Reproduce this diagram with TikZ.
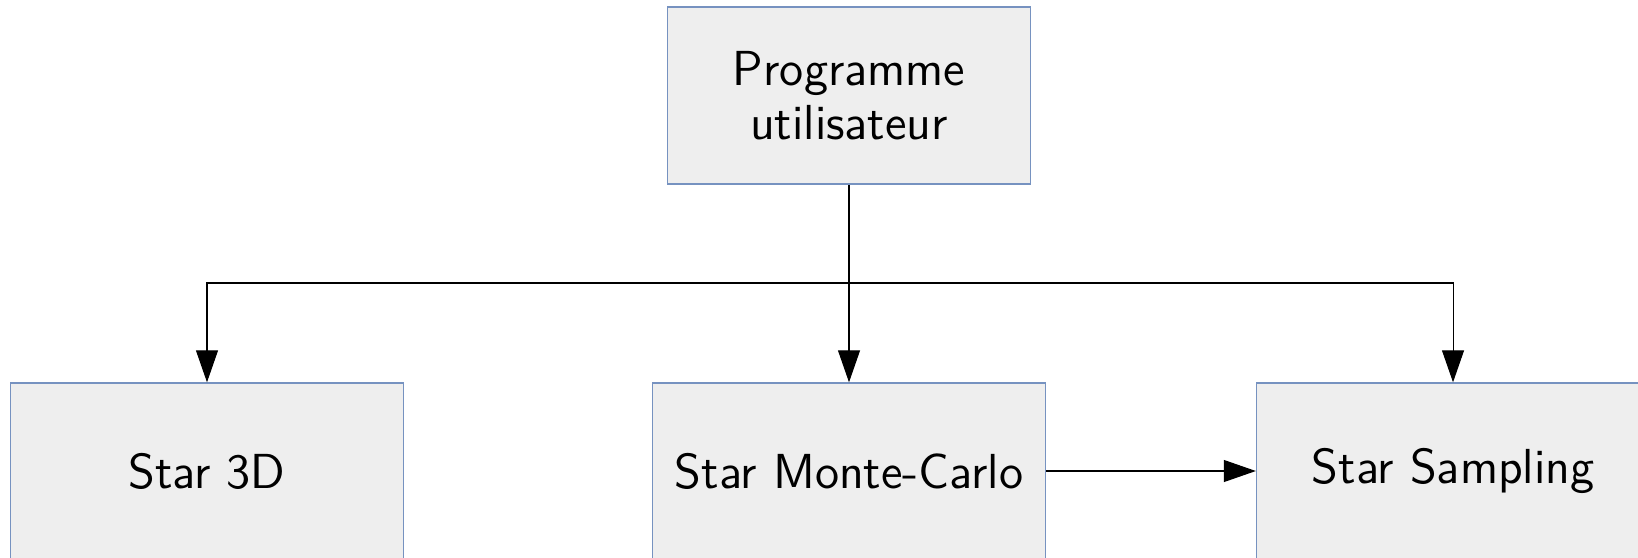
\documentclass[tikz,border=0pt]{standalone}
\usepackage{tikz}
\usetikzlibrary{arrows.meta, positioning}

\definecolor{boxfill}{RGB}{238,238,238}
\definecolor{boxline}{RGB}{118,146,192}

\begin{document}
\begin{tikzpicture}[
    font=\sffamily\fontsize{14}{15.6}\selectfont,
    box/.style={rectangle, minimum width=3.93cm, minimum height=1.76cm, align=center, draw=boxline, fill=boxfill, line width=0.4pt},
    top/.style={box, minimum width=3.63cm, minimum height=1.77cm},
    arr/.style={-{Triangle[length=0.32cm, width=0.22cm]}, line width=0.3pt}
]

%% ── Frame (fixes the margins) ───────────────────────────────────────────────
\useasboundingbox (0,0) rectangle (16.38,-5.57);

%% ── Top row ─────────────────────────────────────────────────────────────────
\node[top] (prog)  at (8.49, -0.956) {Programme\\utilisateur};

%% ── Bottom row (y=-4.71) ────────────────────────────────────────────────────
\node[box] (s3d)   at (2.07,  -4.71) {Star 3D};
\node[box] (smc)   at (8.49,  -4.71) {Star Monte-Carlo};
\node[box] (ssamp) at (14.53, -4.71) {Star Sampling};

%% ── Split point ─────────────────────────────────────────────────────────────
\coordinate (split) at (8.49, -2.83);

%% ── Arrows ──────────────────────────────────────────────────────────────────
\draw[arr] (prog) -- (smc);
\draw[arr] (split) -| (s3d);
\draw[arr] (split) -| (ssamp);
\draw[arr] (smc) -- (ssamp);

\end{tikzpicture}
\end{document}
